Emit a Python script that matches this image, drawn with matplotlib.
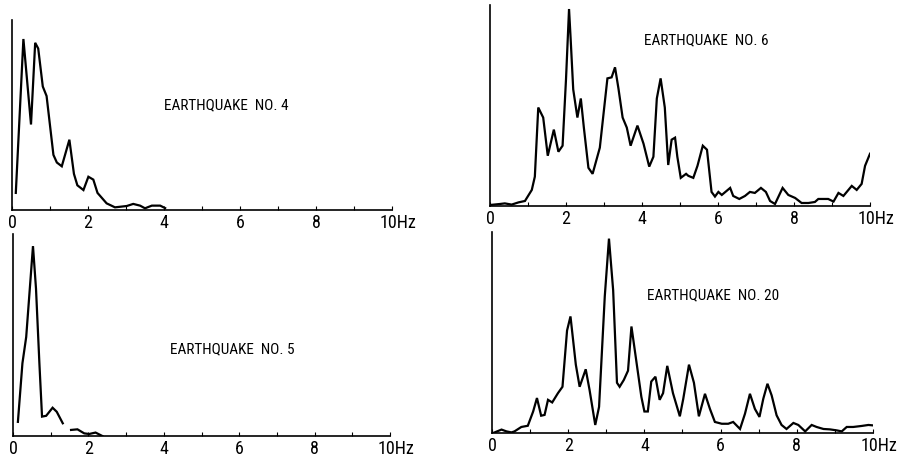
import numpy as np
import matplotlib
matplotlib.use("Agg")
import matplotlib.pyplot as plt
from matplotlib import font_manager
from matplotlib.ticker import MultipleLocator

# ---------------- data (frequency in Hz, relative spectral amplitude) ----------------
eq4_freq = [0.10, 0.30, 0.50, 0.61, 0.69, 0.81, 0.91, 1.09, 1.18, 1.31, 1.51, 1.63, 1.72,
            1.88, 2.01, 2.14, 2.25, 2.49, 2.71, 3.02, 3.19, 3.37, 3.50, 3.68, 3.90, 4.03]
eq4_amp = [0.09, 0.90, 0.45, 0.88, 0.85, 0.65, 0.60, 0.29, 0.25, 0.23, 0.37, 0.19, 0.13,
           0.105, 0.175, 0.16, 0.09, 0.035, 0.014, 0.021, 0.032, 0.023, 0.009, 0.023, 0.023, 0.010]

eq5_freq = [0.13, 0.25, 0.35, 0.53, 0.61, 0.70, 0.77, 0.88, 1.05, 1.16, 1.32, np.nan,
            1.54, 1.71, 1.89, 2.02, 2.19, 2.37]
eq5_amp = [0.07, 0.36, 0.49, 0.94, 0.73, 0.36, 0.096, 0.10, 0.14, 0.12, 0.063, np.nan,
           0.030, 0.033, 0.013, 0.010, 0.017, 0.0]

eq6_freq = [0.00, 0.26, 0.39, 0.57, 0.75, 0.92, 1.10, 1.18, 1.27, 1.40, 1.52, 1.68, 1.80,
            1.91, 2.00, 2.08, 2.12, 2.19, 2.30, 2.39, 2.47, 2.59, 2.70, 2.89, 3.00, 3.09,
            3.20, 3.29, 3.38, 3.49, 3.60, 3.70, 3.88, 4.04, 4.19, 4.30, 4.39, 4.49, 4.60,
            4.69, 4.78, 4.87, 4.93, 5.02, 5.16, 5.22, 5.35, 5.46, 5.60, 5.71, 5.83, 5.92,
            6.01, 6.10, 6.32, 6.40, 6.56, 6.71, 6.84, 6.97, 7.13, 7.26, 7.37, 7.50, 7.70,
            7.85, 8.03, 8.20, 8.38, 8.55, 8.64, 8.90, 9.04, 9.17, 9.30, 9.52, 9.65, 9.78,
            9.87, 10.0]
eq6_amp = [0.005, 0.010, 0.013, 0.007, 0.018, 0.025, 0.08, 0.146, 0.49, 0.44, 0.25, 0.38,
           0.27, 0.30, 0.63, 0.98, 0.84, 0.58, 0.44, 0.535, 0.39, 0.19, 0.16, 0.29, 0.48,
           0.635, 0.64, 0.69, 0.585, 0.44, 0.39, 0.30, 0.40, 0.31, 0.196, 0.245, 0.535,
           0.635, 0.49, 0.204, 0.33, 0.34, 0.245, 0.14, 0.16, 0.15, 0.14, 0.20, 0.30, 0.28,
           0.07, 0.047, 0.07, 0.055, 0.09, 0.05, 0.035, 0.05, 0.07, 0.065, 0.09, 0.07,
           0.025, 0.01, 0.09, 0.055, 0.04, 0.015, 0.015, 0.02, 0.035, 0.035, 0.022, 0.065,
           0.05, 0.10, 0.08, 0.11, 0.20, 0.26]

eq20_freq = [0.03, 0.25, 0.38, 0.51, 0.59, 0.77, 0.94, 1.08, 1.18, 1.29, 1.38, 1.47, 1.58,
             1.73, 1.85, 1.97, 2.06, 2.13, 2.20, 2.30, 2.46, 2.56, 2.71, 2.81, 2.96, 3.07,
             3.18, 3.28, 3.35, 3.46, 3.57, 3.66, 3.79, 3.92, 4.00, 4.09, 4.18, 4.29, 4.40,
             4.49, 4.60, 4.75, 4.93, 5.02, 5.17, 5.30, 5.43, 5.59, 5.72, 5.85, 6.03, 6.20,
             6.33, 6.51, 6.64, 6.77, 6.90, 7.02, 7.12, 7.23, 7.34, 7.47, 7.60, 7.73, 7.91,
             8.04, 8.22, 8.39, 8.52, 8.70, 8.87, 9.05, 9.18, 9.31, 9.48, 9.70, 9.88, 9.99]
eq20_amp = [0.0, 0.017, 0.008, 0.003, 0.008, 0.030, 0.036, 0.107, 0.174, 0.086, 0.09, 0.165,
            0.152, 0.198, 0.23, 0.51, 0.58, 0.46, 0.34, 0.23, 0.317, 0.215, 0.04, 0.13, 0.68,
            0.967, 0.71, 0.25, 0.23, 0.264, 0.31, 0.53, 0.355, 0.18, 0.107, 0.107, 0.256,
            0.28, 0.165, 0.198, 0.334, 0.198, 0.083, 0.17, 0.34, 0.25, 0.083, 0.195, 0.12,
            0.055, 0.046, 0.046, 0.055, 0.02, 0.096, 0.195, 0.12, 0.08, 0.17, 0.245, 0.187,
            0.088, 0.04, 0.02, 0.05, 0.04, 0.008, 0.04, 0.03, 0.02, 0.018, 0.013, 0.008,
            0.03, 0.03, 0.035, 0.04, 0.038]

titles = ["EARTHQUAKE  NO. 4", "EARTHQUAKE  NO. 5", "EARTHQUAKE  NO. 6", "EARTHQUAKE  NO. 20"]
tick_values = [0, 2, 4, 6, 8]
tick_labels = ["0", "2", "4", "6", "8"]
last_tick_label = "10Hz"

# ---------------- fonts ----------------
def pick(names):
    for n in names:
        try:
            font_manager.findfont(n, fallback_to_default=False)
            return n
        except Exception:
            pass
    return "DejaVu Sans"

narrow = pick(["Liberation Sans Narrow", "Roboto Condensed", "Open Sans Condensed", "Liberation Sans"])

# ---------------- figure ----------------
fig = plt.figure(figsize=(9.02, 4.61), dpi=100)
fig.patch.set_facecolor("white")

W, H = 902.0, 461.0
def rect(x0, x1, ytop, ybase):
    return [x0 / W, 1 - ybase / H, (x1 - x0) / W, (ybase - ytop) / H]

panels = [
    (rect(12, 392, 20, 210), eq4_freq, eq4_amp, titles[0], (5.63, 0.55)),
    (rect(13, 390, 234, 436), eq5_freq, eq5_amp, titles[1], (5.81, 0.43)),
    (rect(490, 870, 5, 206), eq6_freq, eq6_amp, titles[2], (5.70, 0.826)),
    (rect(492, 873, 232, 433), eq20_freq, eq20_amp, titles[3], (5.81, 0.687)),
]

for r, fx, ay, title, tpos in panels:
    ax = fig.add_axes(r)
    ax.plot(fx, ay, color="black", lw=1.6, solid_joinstyle="miter")
    ax.set_xlim(0, 10)
    ax.set_ylim(0, 1)
    for s in ("top", "right"):
        ax.spines[s].set_visible(False)
    for s in ("left", "bottom"):
        ax.spines[s].set_linewidth(1.2)
    ax.set_yticks([])
    ax.set_xticks(tick_values)
    ax.set_xticklabels(tick_labels, fontfamily=narrow, fontsize=13)
    ax.xaxis.set_minor_locator(MultipleLocator(1))
    ax.tick_params(axis="x", which="major", direction="in", length=3, width=0.8, pad=3)
    ax.tick_params(axis="x", which="minor", direction="in", length=3, width=0.8)
    ax.text(9.68, -0.022, last_tick_label, ha="left", va="top", fontfamily=narrow,
            fontsize=13, transform=ax.get_xaxis_transform(), clip_on=False)
    ax.text(tpos[0], tpos[1], title, ha="center", va="center", fontfamily=narrow,
            fontsize=11)
    ax.patch.set_alpha(0)

fig.savefig("out.png", dpi=100, facecolor="white")
